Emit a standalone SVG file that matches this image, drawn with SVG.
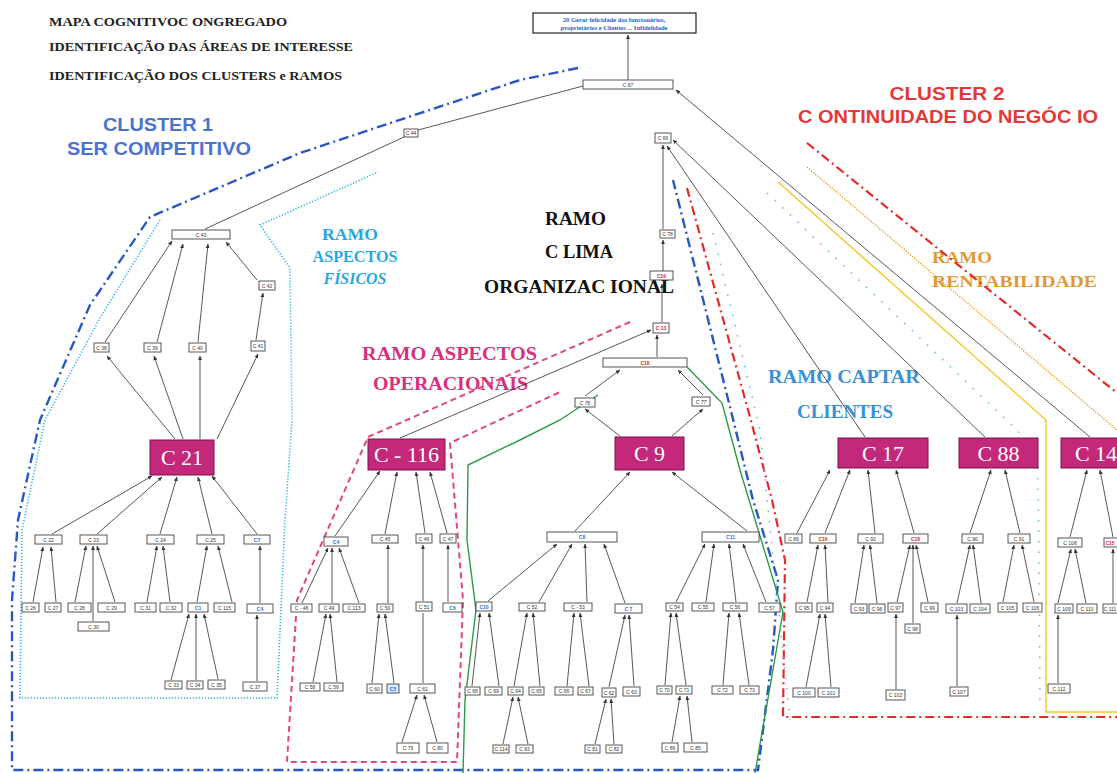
<svg xmlns="http://www.w3.org/2000/svg" width="1117" height="773" viewBox="0 0 1117 773">
<defs>
<marker id="ah" viewBox="0 0 8 8" refX="7.5" refY="4" markerWidth="4.5" markerHeight="4.5" markerUnits="userSpaceOnUse" orient="auto">
<path d="M0,0.5 L8,4 L0,7.5 Z" fill="#333"/>
</marker>
<style>
.hd{font-family:"Liberation Serif",serif;font-weight:bold;font-size:13px;fill:#222}
.cl{font-family:"Liberation Sans",Arial,sans-serif;font-weight:bold;font-size:18px}
.rm{font-family:"Liberation Serif",serif;font-weight:bold}
.cn line{stroke:#3a3a3a;stroke-width:0.85;fill:none;marker-end:url(#ah)}
.n rect{fill:#fff;stroke:#444;stroke-width:0.9}
.n text{font-family:"Liberation Sans",Arial,sans-serif;font-size:5px;fill:#333;text-anchor:middle}
.n.b text{fill:#1f6fe0;font-weight:bold}
.n.r text{fill:#e3282a;font-weight:bold}
.big rect{fill:#c3287a;stroke:#7a1048;stroke-width:1}
.big text{font-family:"Liberation Serif",serif;font-size:22px;fill:#fff;text-anchor:middle}
.bd{fill:none}
</style>
</defs>
<rect width="1117" height="773" fill="#fff"/>

<!-- header -->
<text class="hd" x="49" y="26" textLength="238" lengthAdjust="spacingAndGlyphs">MAPA COGNITIVOC ONGREGADO</text>
<text class="hd" x="49" y="51" textLength="304" lengthAdjust="spacingAndGlyphs">IDENTIFICAÇÃO DAS ÁREAS DE INTERESSE</text>
<text class="hd" x="49" y="80" textLength="293" lengthAdjust="spacingAndGlyphs">IDENTIFICAÇÃO  DOS CLUSTERS e RAMOS</text>

<!-- cluster and branch labels -->
<text class="cl" x="158" y="131" text-anchor="middle" fill="#4a72d0" textLength="110" lengthAdjust="spacingAndGlyphs">CLUSTER 1</text>
<text class="cl" x="159" y="155" text-anchor="middle" fill="#4a72d0" textLength="184" lengthAdjust="spacingAndGlyphs">SER COMPETITIVO</text>
<text class="cl" x="947" y="100" text-anchor="middle" fill="#e23a3a" textLength="115" lengthAdjust="spacingAndGlyphs">CLUSTER  2</text>
<text class="cl" x="948" y="123" text-anchor="middle" fill="#e23a3a" textLength="300" lengthAdjust="spacingAndGlyphs">C ONTINUIDADE DO NEGÓC IO</text>
<text class="rm" x="350" y="240" text-anchor="middle" font-size="17" fill="#2aa6e0" textLength="56" lengthAdjust="spacingAndGlyphs">RAMO</text>
<text class="rm" x="355" y="262" text-anchor="middle" font-size="17" fill="#2aa6e0" textLength="85" lengthAdjust="spacingAndGlyphs">ASPECTOS</text>
<text class="rm" x="355" y="284" text-anchor="middle" font-size="17" font-style="italic" fill="#2aa6e0" textLength="63" lengthAdjust="spacingAndGlyphs">FÍSICOS</text>
<text class="rm" x="545" y="225" font-size="19" fill="#111" textLength="61" lengthAdjust="spacingAndGlyphs">RAMO</text>
<text class="rm" x="545" y="258" font-size="19" fill="#111" textLength="68" lengthAdjust="spacingAndGlyphs">C LIMA</text>
<text class="rm" x="484" y="293" font-size="19" fill="#111" textLength="190" lengthAdjust="spacingAndGlyphs">ORGANIZAC IONAL</text>
<text class="rm" x="362" y="360" font-size="18" fill="#d8307c" textLength="175" lengthAdjust="spacingAndGlyphs">RAMO  ASPECTOS</text>
<text class="rm" x="373" y="390" font-size="18" fill="#d8307c" textLength="155" lengthAdjust="spacingAndGlyphs">OPERACIONAIS</text>
<text class="rm" x="768" y="383" font-size="18" fill="#3a90d8" textLength="152" lengthAdjust="spacingAndGlyphs">RAMO  CAPTAR</text>
<text class="rm" x="797" y="418" font-size="18" fill="#3a90d8" textLength="96" lengthAdjust="spacingAndGlyphs">CLIENTES</text>
<text class="rm" x="932" y="263" font-size="17" fill="#e09a34" textLength="60" lengthAdjust="spacingAndGlyphs">RAMO</text>
<text class="rm" x="932" y="287" font-size="17" fill="#e09a34" textLength="165" lengthAdjust="spacingAndGlyphs">RENTABILIDADE</text>

<!-- cluster / branch boundaries -->
<g id="boundaries">
<path class="bd" d="M578,68 L520,80 L300,153 L150,217 L90,305 L40,420 L18,520 L12,600 L12,770 L758,770 L773,650 L778,580 L753,500 L730,407 L673,180" stroke="#2a56c4" stroke-width="2.4" stroke-dasharray="10 4 2 4"/>
<path class="bd" d="M160,220 L100,318 L45,420 L22,530 L20,698 L277,698 L285,520 L292,420 L290,268 L260,225 L378,172" stroke="#2ab2ea" stroke-width="1.6" stroke-dasharray="1.2 1.8"/>
<path class="bd" d="M630,322 L368,437 L297,600 L287,762 L457,762 L463,600 L450,443 L560,392" stroke="#e2457f" stroke-width="2" stroke-dasharray="6 4"/>
<path class="bd" d="M463,773 L465,700 L476,610 L467,540 L468,465 L520,440 L560,420 L598,395" stroke="#2a9a48" stroke-width="1.4"/>
<path class="bd" d="M687,367 L722,403 L740,470 L783,612 L755,773" stroke="#2a9a48" stroke-width="1.4"/>
<path class="bd" d="M687,188 L750,417 L772,500 L785,560 L783,717 L1117,717" stroke="#e22a2a" stroke-width="2.2" stroke-dasharray="9 4 2 4"/>
<path class="bd" d="M807,143 L1117,393" stroke="#e22a2a" stroke-width="2.2" stroke-dasharray="9 4 2 4"/>
<path class="bd" d="M807,167 L1117,430" stroke="#e8a020" stroke-width="1.6" stroke-dasharray="1.2 1.5"/>
<path class="bd" d="M778,182 L1046,420 L1046,712 L1117,712" stroke="#f0c828" stroke-width="1.4"/>
<path class="bd" d="M713,233 L760,430 L790,720" stroke="#6ab8ea" stroke-width="1.6" stroke-dasharray="1.5 9"/>
<path class="bd" d="M767,193 L1017,430 L1038,460 L1040,700" stroke="#6ab8ea" stroke-width="1.6" stroke-dasharray="1.5 9"/>
</g>

<!-- connectors -->
<g id="connectors" class="cn">
<line x1="628" y1="80" x2="628" y2="35"/>
<line x1="583" y1="86" x2="418" y2="130" style="marker-end:none"/>
<line x1="205" y1="229" x2="404" y2="137" style="marker-end:none"/>
<line x1="1090" y1="437" x2="676" y2="90"/>
<line x1="985" y1="437" x2="673" y2="140"/>
<line x1="865" y1="437" x2="667" y2="146"/>
<line x1="663" y1="229" x2="663" y2="145"/>
<line x1="663" y1="272" x2="663" y2="240"/>
<line x1="662" y1="322" x2="662" y2="284"/>
<line x1="657" y1="357" x2="657" y2="335"/>
<line x1="585" y1="396" x2="620" y2="370"/>
<line x1="703" y1="395" x2="678" y2="370"/>
<line x1="620" y1="436" x2="585" y2="409"/>
<line x1="672" y1="436" x2="703" y2="409"/>
<line x1="400" y1="438" x2="651" y2="330"/>
<line x1="105" y1="342" x2="172" y2="241"/>
<line x1="157" y1="342" x2="183" y2="244"/>
<line x1="198" y1="342" x2="208" y2="244"/>
<line x1="257" y1="280" x2="226" y2="242"/>
<line x1="256" y1="340" x2="263" y2="293"/>
<line x1="175" y1="439" x2="107" y2="356"/>
<line x1="183" y1="439" x2="154" y2="356"/>
<line x1="200" y1="439" x2="200" y2="356"/>
<line x1="217" y1="439" x2="258" y2="354"/>
<line x1="52" y1="534" x2="152" y2="476"/>
<line x1="97" y1="534" x2="162" y2="477"/>
<line x1="160" y1="534" x2="177" y2="477"/>
<line x1="212" y1="534" x2="198" y2="477"/>
<line x1="257" y1="534" x2="212" y2="476"/>
<line x1="33" y1="602" x2="43" y2="547"/>
<line x1="56" y1="602" x2="51" y2="547"/>
<line x1="75" y1="602" x2="86" y2="546"/>
<line x1="93" y1="621" x2="93" y2="546"/>
<line x1="115" y1="602" x2="97" y2="546"/>
<line x1="147" y1="602" x2="157" y2="546"/>
<line x1="170" y1="602" x2="163" y2="546"/>
<line x1="197" y1="602" x2="207" y2="546"/>
<line x1="232" y1="602" x2="218" y2="546"/>
<line x1="260" y1="603" x2="260" y2="546"/>
<line x1="171" y1="680" x2="189" y2="614"/>
<line x1="196" y1="680" x2="196" y2="614"/>
<line x1="218" y1="679" x2="204" y2="614"/>
<line x1="257" y1="681" x2="257" y2="615"/>
<line x1="335" y1="536" x2="380" y2="471"/>
<line x1="385" y1="534" x2="397" y2="472"/>
<line x1="425" y1="533" x2="416" y2="472"/>
<line x1="447" y1="533" x2="430" y2="472"/>
<line x1="302" y1="603" x2="328" y2="548"/>
<line x1="332" y1="603" x2="332" y2="548"/>
<line x1="359" y1="603" x2="339" y2="548"/>
<line x1="388" y1="603" x2="388" y2="545"/>
<line x1="423" y1="601" x2="423" y2="545"/>
<line x1="448" y1="602" x2="448" y2="545"/>
<line x1="313" y1="682" x2="326" y2="614"/>
<line x1="337" y1="682" x2="330" y2="614"/>
<line x1="372" y1="683" x2="379" y2="614"/>
<line x1="394" y1="683" x2="385" y2="614"/>
<line x1="423" y1="683" x2="423" y2="613" style="marker-end:none"/>
<line x1="402" y1="742" x2="417" y2="695"/>
<line x1="437" y1="742" x2="424" y2="695"/>
<line x1="575" y1="531" x2="630" y2="472"/>
<line x1="747" y1="531" x2="672" y2="472"/>
<line x1="488" y1="601" x2="557" y2="544"/>
<line x1="539" y1="602" x2="572" y2="544"/>
<line x1="587" y1="602" x2="585" y2="544"/>
<line x1="625" y1="603" x2="604" y2="544"/>
<line x1="676" y1="602" x2="705" y2="544"/>
<line x1="706" y1="602" x2="714" y2="544"/>
<line x1="736" y1="602" x2="729" y2="544"/>
<line x1="766" y1="602" x2="743" y2="544"/>
<line x1="472" y1="686" x2="480" y2="613"/>
<line x1="499" y1="686" x2="489" y2="613"/>
<line x1="514" y1="686" x2="527" y2="613"/>
<line x1="540" y1="686" x2="533" y2="613"/>
<line x1="567" y1="686" x2="574" y2="613"/>
<line x1="589" y1="686" x2="580" y2="613"/>
<line x1="609" y1="687" x2="625" y2="615"/>
<line x1="634" y1="686" x2="629" y2="615"/>
<line x1="665" y1="685" x2="671" y2="613"/>
<line x1="686" y1="685" x2="676" y2="613"/>
<line x1="723" y1="685" x2="729" y2="613"/>
<line x1="749" y1="685" x2="739" y2="613"/>
<line x1="503" y1="744" x2="513" y2="697"/>
<line x1="528" y1="744" x2="518" y2="697"/>
<line x1="595" y1="744" x2="606" y2="699"/>
<line x1="614" y1="744" x2="611" y2="699"/>
<line x1="672" y1="742" x2="680" y2="696"/>
<line x1="692" y1="742" x2="687" y2="696"/>
<line x1="797" y1="533" x2="830" y2="470"/>
<line x1="825" y1="533" x2="850" y2="470"/>
<line x1="875" y1="533" x2="868" y2="470"/>
<line x1="914" y1="533" x2="896" y2="470"/>
<line x1="970" y1="533" x2="991" y2="470"/>
<line x1="1020" y1="533" x2="1005" y2="470"/>
<line x1="1070" y1="537" x2="1087" y2="470"/>
<line x1="1113" y1="537" x2="1100" y2="470"/>
<line x1="807" y1="602" x2="818" y2="545"/>
<line x1="828" y1="602" x2="825" y2="545"/>
<line x1="855" y1="603" x2="864" y2="545"/>
<line x1="877" y1="603" x2="870" y2="545"/>
<line x1="897" y1="602" x2="910" y2="545"/>
<line x1="913" y1="623" x2="913" y2="545"/>
<line x1="928" y1="602" x2="916" y2="545"/>
<line x1="957" y1="603" x2="970" y2="545"/>
<line x1="981" y1="603" x2="973" y2="545"/>
<line x1="1003" y1="602" x2="1014" y2="545"/>
<line x1="1034" y1="602" x2="1022" y2="545"/>
<line x1="1058" y1="603" x2="1071" y2="549"/>
<line x1="1086" y1="603" x2="1075" y2="549"/>
<line x1="1113" y1="603" x2="1113" y2="549"/>
<line x1="806" y1="687" x2="820" y2="614"/>
<line x1="831" y1="687" x2="825" y2="614"/>
<line x1="896" y1="689" x2="896" y2="614"/>
<line x1="957" y1="686" x2="957" y2="615"/>
<line x1="1058" y1="683" x2="1058" y2="615"/>
</g>

<!-- root concept -->
<g id="n20" class="n">
<rect x="533" y="13" width="163" height="20" style="stroke:#222;stroke-width:1.2"/>
<text x="614" y="22" style="font-family:'Liberation Serif',serif;font-size:6.5px;font-weight:bold;fill:#1f5fd0">20 Gerar felicidade dos funcionários,</text>
<text x="614" y="30" style="font-family:'Liberation Serif',serif;font-size:6.5px;font-weight:bold;fill:#1f5fd0">proprietários e Clientes ... Infidelidade</text>
</g>
<g id="n67" class="n"><rect x="583" y="80" width="90" height="9"/><text x="628" y="86.5">C 67</text></g>
<g id="n44" class="n"><rect x="404" y="129" width="14" height="8"/><text x="411" y="135">C 44</text></g>
<g id="n66" class="n"><rect x="655" y="133" width="16" height="10"/><text x="663" y="140">C 66</text></g>
<g id="n43" class="n"><rect x="172" y="230" width="58" height="9"/><text x="201" y="236.5">C 43</text></g>
<g id="n42" class="n"><rect x="259" y="281" width="16" height="9"/><text x="267" y="287.5">C 42</text></g>
<g id="n38" class="n"><rect x="94" y="343" width="15" height="9"/><text x="101.5" y="349.5">C 38</text></g>
<g id="n39" class="n"><rect x="144" y="343" width="17" height="9"/><text x="152.5" y="349.5">C 39</text></g>
<g id="n40" class="n"><rect x="189" y="343" width="17" height="9"/><text x="197.5" y="349.5">C 40</text></g>
<g id="n41" class="n"><rect x="251" y="341" width="14" height="10"/><text x="258" y="348">C 41</text></g>
<g id="n78" class="n"><rect x="660" y="230" width="15" height="8"/><text x="667.5" y="236">C 78</text></g>
<g id="n19" class="n r"><rect x="650" y="271" width="23" height="9"/><text x="661.5" y="277.5">C19</text></g>
<g id="n13" class="n r"><rect x="653" y="323" width="16" height="10"/><text x="661" y="330">C 13</text></g>
<g id="n18c" class="n r"><rect x="603" y="358" width="84" height="9"/><text x="645" y="364.5">C18</text></g>
<g id="n76" class="n"><rect x="575" y="398" width="20" height="9"/><text x="585" y="404.5" font-style="italic">C 76</text></g>
<g id="n77" class="n"><rect x="692" y="397" width="18" height="9"/><text x="701" y="403.5" font-style="italic">C 77</text></g>

<!-- central concepts -->
<g id="n21" class="big"><rect x="150" y="440" width="64" height="35"/><text x="182" y="465">C 21</text></g>
<g id="n116" class="big"><rect x="368" y="439" width="77" height="31"/><text x="406.5" y="462">C - 116</text></g>
<g id="n9" class="big"><rect x="615" y="437" width="69" height="33"/><text x="649.5" y="461">C 9</text></g>
<g id="n17" class="big"><rect x="838" y="438" width="90" height="30"/><text x="883" y="461">C 17</text></g>
<g id="n88" class="big"><rect x="959" y="438" width="79" height="30"/><text x="998.5" y="461">C 88</text></g>
<g id="n14" class="big"><rect x="1061" y="438" width="70" height="30"/><text x="1096" y="461">C 14</text></g>

<!-- branch of C 21 -->
<g id="n22" class="n"><rect x="35" y="535" width="27" height="9"/><text x="48.5" y="541.5">C 22</text></g>
<g id="n23" class="n"><rect x="80" y="535" width="27" height="9"/><text x="93.5" y="541.5">C 23</text></g>
<g id="n24" class="n"><rect x="147" y="535" width="27" height="9"/><text x="160.5" y="541.5">C 24</text></g>
<g id="n25" class="n"><rect x="197" y="535" width="27" height="9"/><text x="210.5" y="541.5">C 25</text></g>
<g id="n7a" class="n b"><rect x="244" y="535" width="26" height="9"/><text x="257" y="541.5">C7</text></g>
<g id="n26" class="n"><rect x="22" y="603" width="17" height="9"/><text x="30.5" y="609.5">C 26</text></g>
<g id="n27" class="n"><rect x="45" y="603" width="16" height="9"/><text x="53" y="609.5">C 27</text></g>
<g id="n28" class="n"><rect x="68" y="603" width="23" height="9"/><text x="79.5" y="609.5">C 28</text></g>
<g id="n29" class="n"><rect x="98" y="603" width="27" height="9"/><text x="111.5" y="609.5">C 29</text></g>
<g id="n30" class="n"><rect x="78" y="622" width="31" height="9"/><text x="93.5" y="628.5">C 30</text></g>
<g id="n31" class="n"><rect x="135" y="603" width="21" height="9"/><text x="145.5" y="609.5">C 31</text></g>
<g id="n32" class="n"><rect x="160" y="603" width="22" height="9"/><text x="171" y="609.5">C 32</text></g>
<g id="n1" class="n b"><rect x="188" y="603" width="20" height="9"/><text x="198" y="609.5">C1</text></g>
<g id="n115" class="n"><rect x="214" y="603" width="21" height="9"/><text x="224.5" y="609.5">C 115</text></g>
<g id="n4a" class="n b"><rect x="247" y="604" width="26" height="9"/><text x="260" y="610.5">C4</text></g>
<g id="n33" class="n"><rect x="165" y="681" width="17" height="8"/><text x="173.5" y="687">C 33</text></g>
<g id="n34" class="n"><rect x="187" y="681" width="16" height="8"/><text x="195" y="687">C 34</text></g>
<g id="n35" class="n"><rect x="208" y="680" width="17" height="9"/><text x="216.5" y="686.5">C 35</text></g>
<g id="n37" class="n"><rect x="243" y="682" width="24" height="9"/><text x="255" y="688.5">C 37</text></g>

<!-- branch of C - 116 -->
<g id="n4b" class="n b"><rect x="324" y="537" width="24" height="9"/><text x="336" y="543.5">C4</text></g>
<g id="n45" class="n"><rect x="372" y="535" width="26" height="8"/><text x="385" y="541">C 45</text></g>
<g id="n46" class="n"><rect x="416" y="534" width="16" height="9"/><text x="424" y="540.5">C 46</text></g>
<g id="n47" class="n"><rect x="440" y="534" width="16" height="9"/><text x="448" y="540.5">C 47</text></g>
<g id="n48" class="n"><rect x="291" y="604" width="21" height="8"/><text x="301.5" y="610">C - 48</text></g>
<g id="n49" class="n"><rect x="319" y="604" width="20" height="8"/><text x="329" y="610">C 49</text></g>
<g id="n113" class="n"><rect x="343" y="604" width="22" height="8"/><text x="354" y="610">C 113</text></g>
<g id="n50" class="n"><rect x="377" y="604" width="16" height="8"/><text x="385" y="610">C 50</text></g>
<g id="n51" class="n"><rect x="416" y="602" width="16" height="9"/><text x="424" y="608.5">C 51</text></g>
<g id="n6" class="n b"><rect x="443" y="603" width="19" height="9"/><text x="452.5" y="609.5">C6</text></g>
<g id="n58" class="n"><rect x="300" y="683" width="20" height="8"/><text x="310" y="689">C 58</text></g>
<g id="n59" class="n"><rect x="324" y="683" width="19" height="8"/><text x="333.5" y="689">C 59</text></g>
<g id="n60" class="n"><rect x="367" y="684" width="15" height="9"/><text x="374.5" y="690.5">C 60</text></g>
<g id="n5" class="n b"><rect x="387" y="684" width="12" height="9" style="fill:#d8ecff"/><text x="393" y="690.5">C5</text></g>
<g id="n61" class="n"><rect x="410" y="684" width="25" height="9"/><text x="422.5" y="690.5">C 61</text></g>
<g id="n79" class="n"><rect x="397" y="743" width="22" height="10"/><text x="408" y="750">C 79</text></g>
<g id="n80" class="n"><rect x="427" y="743" width="21" height="10"/><text x="437.5" y="750">C 80</text></g>

<!-- branch of C 9 -->
<g id="n8" class="n b"><rect x="547" y="532" width="70" height="10"/><text x="582" y="539">C8</text></g>
<g id="n11" class="n b"><rect x="702" y="532" width="57" height="10"/><text x="730.5" y="539">C11</text></g>
<g id="n10" class="n b"><rect x="476" y="602" width="16" height="9"/><text x="484" y="608.5">C10</text></g>
<g id="n52" class="n"><rect x="519" y="603" width="26" height="8"/><text x="532" y="609">C 52</text></g>
<g id="n53" class="n"><rect x="564" y="603" width="28" height="8"/><text x="578" y="609">C - 53</text></g>
<g id="n7c" class="n b"><rect x="615" y="604" width="27" height="9"/><text x="628.5" y="610.5">C 7</text></g>
<g id="n54" class="n"><rect x="666" y="603" width="17" height="8"/><text x="674.5" y="609">C 54</text></g>
<g id="n55" class="n"><rect x="692" y="603" width="22" height="8"/><text x="703" y="609">C 55</text></g>
<g id="n56" class="n"><rect x="723" y="603" width="24" height="8"/><text x="735" y="609">C 56</text></g>
<g id="n57" class="n"><rect x="759" y="603" width="21" height="9"/><text x="769.5" y="609.5">C 57</text></g>
<g id="n68" class="n"><rect x="465" y="687" width="15" height="8"/><text x="472.5" y="693">C 68</text></g>
<g id="n69" class="n"><rect x="485" y="687" width="17" height="8"/><text x="493.5" y="693">C 69</text></g>
<g id="n64" class="n"><rect x="508" y="687" width="15" height="8"/><text x="515.5" y="693">C 64</text></g>
<g id="n65" class="n"><rect x="529" y="687" width="15" height="8"/><text x="536.5" y="693">C 65</text></g>
<g id="n66b" class="n"><rect x="555" y="687" width="18" height="8"/><text x="564" y="693">C 66</text></g>
<g id="n67b" class="n"><rect x="578" y="687" width="15" height="8"/><text x="585.5" y="693">C 67</text></g>
<g id="n62" class="n"><rect x="602" y="688" width="14" height="9"/><text x="609" y="694.5">C 62</text></g>
<g id="n63" class="n"><rect x="623" y="687" width="17" height="9"/><text x="631.5" y="693.5">C 63</text></g>
<g id="n70" class="n"><rect x="657" y="686" width="15" height="8"/><text x="664.5" y="692">C 70</text></g>
<g id="n71" class="n"><rect x="676" y="686" width="16" height="8"/><text x="684" y="692">C 71</text></g>
<g id="n72" class="n"><rect x="712" y="686" width="21" height="8"/><text x="722.5" y="692">C 72</text></g>
<g id="n73" class="n"><rect x="740" y="686" width="19" height="8"/><text x="749.5" y="692">C 73</text></g>
<g id="n114" class="n"><rect x="493" y="745" width="16" height="8"/><text x="501" y="751">C 114</text></g>
<g id="n83" class="n"><rect x="516" y="745" width="17" height="8"/><text x="524.5" y="751">C 83</text></g>
<g id="n81" class="n"><rect x="585" y="745" width="15" height="8"/><text x="592.5" y="751">C 81</text></g>
<g id="n82" class="n"><rect x="606" y="745" width="16" height="8"/><text x="614" y="751">C 82</text></g>
<g id="n86" class="n"><rect x="662" y="743" width="16" height="9"/><text x="670" y="749.5">C 86</text></g>
<g id="n85" class="n"><rect x="684" y="743" width="23" height="9"/><text x="695.5" y="749.5">C 85</text></g>

<!-- branches of C 17, C 88 and C 14 -->
<g id="n89" class="n"><rect x="785" y="534" width="17" height="9"/><text x="793.5" y="540.5">C 89</text></g>
<g id="n16" class="n r"><rect x="810" y="534" width="26" height="9"/><text x="823" y="540.5">C16</text></g>
<g id="n92" class="n"><rect x="858" y="534" width="25" height="9"/><text x="870.5" y="540.5">C 92</text></g>
<g id="n18r" class="n r"><rect x="903" y="534" width="25" height="9"/><text x="915.5" y="540.5">C18</text></g>
<g id="n90" class="n"><rect x="962" y="534" width="21" height="9"/><text x="972.5" y="540.5">C 90</text></g>
<g id="n91" class="n"><rect x="1008" y="534" width="22" height="9"/><text x="1019" y="540.5">C 91</text></g>
<g id="n108" class="n"><rect x="1058" y="538" width="24" height="9"/><text x="1070" y="544.5">C 108</text></g>
<g id="n15" class="n r"><rect x="1104" y="538" width="20" height="9"/><text x="1110" y="544.5">C15</text></g>
<g id="n95" class="n"><rect x="796" y="603" width="16" height="9"/><text x="804" y="609.5">C 95</text></g>
<g id="n94" class="n"><rect x="817" y="603" width="16" height="9"/><text x="825" y="609.5">C 94</text></g>
<g id="n93" class="n"><rect x="851" y="604" width="16" height="9"/><text x="859" y="610.5">C 93</text></g>
<g id="n96" class="n"><rect x="869" y="604" width="16" height="9"/><text x="877" y="610.5">C 96</text></g>
<g id="n97" class="n"><rect x="888" y="603" width="15" height="9"/><text x="895.5" y="609.5">C 97</text></g>
<g id="n98" class="n"><rect x="905" y="624" width="15" height="9"/><text x="912.5" y="630.5">C 98</text></g>
<g id="n99" class="n"><rect x="921" y="603" width="17" height="9"/><text x="929.5" y="609.5">C 99</text></g>
<g id="n103" class="n"><rect x="946" y="604" width="21" height="9"/><text x="956.5" y="610.5">C 103</text></g>
<g id="n104" class="n"><rect x="970" y="604" width="20" height="9"/><text x="980" y="610.5">C 104</text></g>
<g id="n105" class="n"><rect x="998" y="603" width="19" height="9"/><text x="1007.5" y="609.5">C 105</text></g>
<g id="n106" class="n"><rect x="1023" y="603" width="19" height="9"/><text x="1032.5" y="609.5">C 106</text></g>
<g id="n109" class="n"><rect x="1055" y="604" width="18" height="9"/><text x="1064" y="610.5">C 109</text></g>
<g id="n110" class="n"><rect x="1077" y="604" width="20" height="9"/><text x="1087" y="610.5">C 110</text></g>
<g id="n111" class="n"><rect x="1103" y="604" width="15" height="9"/><text x="1110" y="610.5">C 111</text></g>
<g id="n100" class="n"><rect x="793" y="688" width="22" height="9"/><text x="804" y="694.5">C 100</text></g>
<g id="n101" class="n"><rect x="818" y="688" width="21" height="9"/><text x="828.5" y="694.5">C 101</text></g>
<g id="n102" class="n"><rect x="886" y="690" width="19" height="10"/><text x="895.5" y="697">C 102</text></g>
<g id="n107" class="n"><rect x="950" y="687" width="18" height="9"/><text x="959" y="693.5">C 107</text></g>
<g id="n112" class="n"><rect x="1048" y="684" width="22" height="9"/><text x="1059" y="690.5">C 112</text></g>
</svg>
